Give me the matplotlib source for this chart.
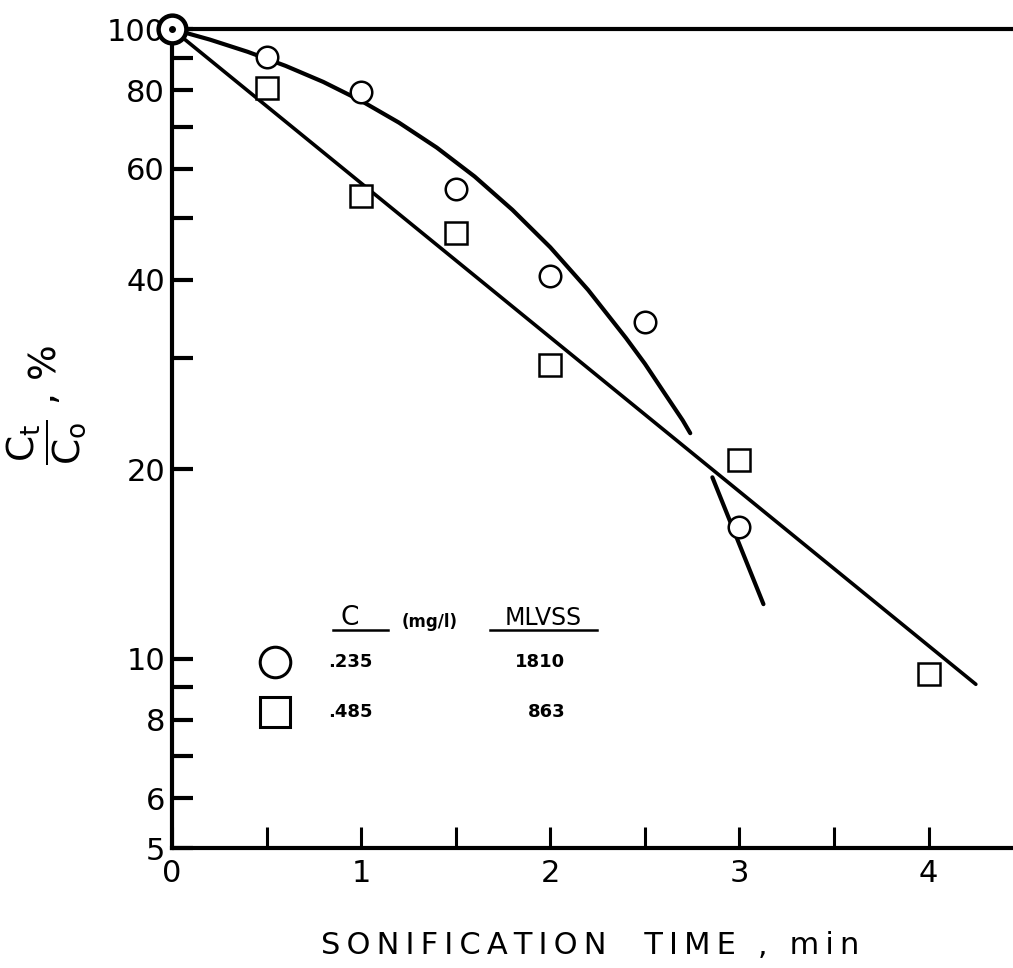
import matplotlib
matplotlib.use("Agg")
import matplotlib.pyplot as plt

# ---- data ----
time_circle = [0.5, 1.0, 1.5, 2.0, 2.5, 3.0]
conc_circle = [90.3, 79.4, 55.7, 40.5, 34.2, 16.2]

time_square = [0.5, 1.0, 1.5, 2.0, 3.0, 4.0]
conc_square = [80.6, 54.3, 47.4, 29.3, 20.7, 9.45]

# hand-drawn curve through the circle data (upper branch)
curve1_x = [0.0, 0.2, 0.4, 0.6, 0.8, 1.0, 1.2, 1.4, 1.6, 1.8, 2.0, 2.2, 2.4,
            2.5, 2.6, 2.7, 2.74]
curve1_y = [100, 96.2, 92.0, 87.4, 82.4, 76.9, 71.0, 64.8, 58.3, 51.6, 45.0, 38.5, 32.3,
            29.4, 26.5, 23.9, 22.8]
# lower branch of circle curve
curve2_x = [2.857, 3.127]
curve2_y = [19.4, 12.2]
# straight line through the square data
line_x = [0.0, 4.25]
line_y = [100, 9.1]

ytick_vals = [5, 6, 7, 8, 9, 10, 20, 30, 40, 50, 60, 70, 80, 90, 100]
ytick_lbls = ["5", "6", "", "8", "", "10", "20", "", "40", "", "60", "", "80", "", "100"]
xtick_vals = [0, 0.5, 1, 1.5, 2, 2.5, 3, 3.5, 4]
xtick_lbls = ["0", "", "1", "", "2", "", "3", "", "4"]

legend_c = [".235", ".485"]
legend_mlvss = ["1810", "863"]

plt.rcParams['font.family'] = ['DejaVu Sans']
fig = plt.figure(figsize=(10.13, 9.68), dpi=100)
ax = fig.add_axes([172/1013, 120/968, 1 - 172/1013 + 0.01, (848-29)/968])

ax.set_yscale('log')
ax.set_xlim(0, 4.5)
ax.set_ylim(5, 100)

ax.plot(curve1_x, curve1_y, color='black', lw=3.0, solid_capstyle='round',
        solid_joinstyle='round', zorder=2)
ax.plot(curve2_x, curve2_y, color='black', lw=3.0, solid_capstyle='round', zorder=2)
ax.plot(line_x, line_y, color='black', lw=2.6, solid_capstyle='round', zorder=2)

ax.plot(time_circle, conc_circle, linestyle='none', marker='o', ms=15.5,
        mfc='white', mec='black', mew=1.8, zorder=3)
ax.plot(time_square, conc_square, linestyle='none', marker='s', ms=15.5,
        mfc='white', mec='black', mew=1.8, zorder=3)
# common starting point
ax.plot([0], [100], linestyle='none', marker='o', ms=20, mfc='white',
        mec='black', mew=3.2, zorder=4, clip_on=False)
ax.plot([0], [100], linestyle='none', marker='o', ms=4, mfc='black',
        mec='black', zorder=5, clip_on=False)

for s in ['left', 'bottom', 'top']:
    ax.spines[s].set_linewidth(3)
ax.spines['right'].set_visible(False)

ax.yaxis.set_minor_locator(matplotlib.ticker.NullLocator())
ax.set_yticks(ytick_vals)
ax.set_yticklabels(ytick_lbls)
ax.set_xticks(xtick_vals)
ax.set_xticklabels(xtick_lbls)
ax.tick_params(axis='y', direction='in', length=15, width=3, pad=5, labelsize=22)
ax.tick_params(axis='x', direction='in', length=15, width=2.2, pad=8, labelsize=22)

xlabel = "SONIFICATION  TIME , min"
spaced = "\u2009".join(list(xlabel))
fig.text(590/1013, 1 - 945/968, spaced, ha='center', va='center', fontsize=22)
fig.text(46/1013, 1 - 405/968, r"$\dfrac{\mathsf{C_t}}{\mathsf{C_o}}$ , %", rotation=90,
         ha='center', va='center', fontsize=27)

# legend table
def fx(px):
    return px / 1013
def fy(py):
    return 1 - py / 968

fig.text(fx(350), fy(618), "C", ha='center', va='center', fontsize=19)
fig.text(fx(430), fy(622), "(mg/l)", ha='center', va='center', fontsize=12, weight='bold')
fig.text(fx(543), fy(618), "MLVSS", ha='center', va='center', fontsize=17)
fig.add_artist(plt.Line2D([fx(333), fx(388)], [fy(630), fy(630)], color='black', lw=1.8))
fig.add_artist(plt.Line2D([fx(490), fx(597)], [fy(630), fy(630)], color='black', lw=1.8))

fig.add_artist(plt.Line2D([fx(275)], [fy(662)], marker='o', ms=22, mfc='white',
                          mec='black', mew=2.2, linestyle='none'))
fig.add_artist(plt.Line2D([fx(275)], [fy(712)], marker='s', ms=21, mfc='white',
                          mec='black', mew=2.2, linestyle='none'))
for i, py in enumerate([662, 712]):
    fig.text(fx(328), fy(py), legend_c[i], ha='left', va='center', fontsize=13, weight='bold')
    fig.text(fx(565), fy(py), legend_mlvss[i], ha='right', va='center', fontsize=13, weight='bold')

fig.savefig("out.png", dpi=100)
